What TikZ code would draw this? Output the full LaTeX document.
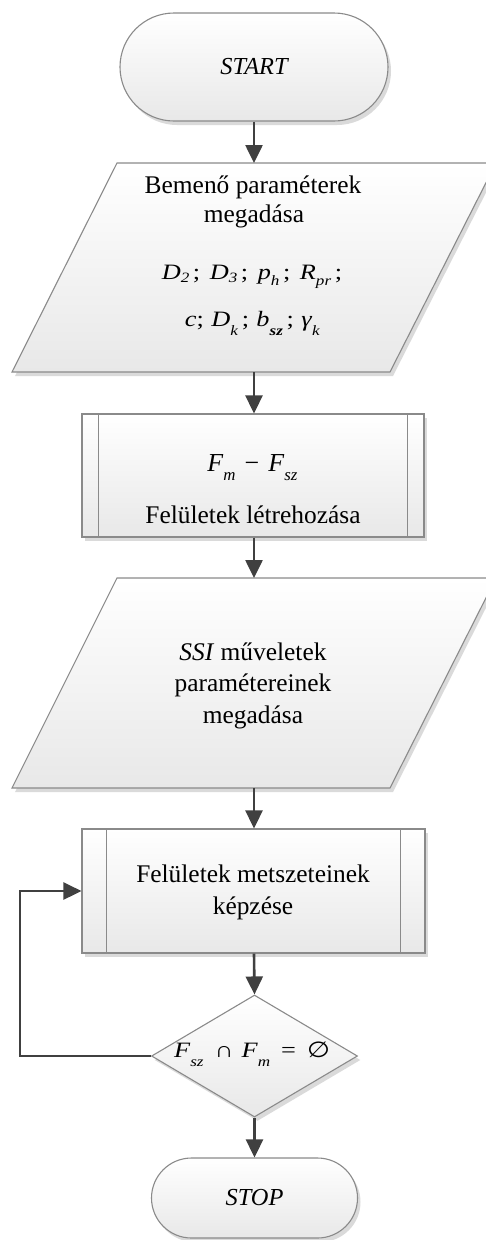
\documentclass[tikz,border=0pt]{standalone}
\usepackage{fontspec}
\setmainfont{Liberation Serif}
\newfontfamily\symsans{DejaVu Sans}
\usepackage{graphicx}
\usetikzlibrary{arrows.meta,shapes.geometric,shapes.misc,shadows}

% lowered, reduced subscript
\newcommand\lowsub[2][0.3em]{\raisebox{-#1}{\scalebox{0.65}{#2}}}
% italic variable with italic subscript
\newcommand\var[3][0.3em]{\textit{#2}\lowsub[#1]{\textit{#3}}}
% equation-object look: slightly widened formulas
\newcommand\wide[1]{\scalebox{1.2}[1]{#1}}

\definecolor{edge}{HTML}{8A8A8A}
\definecolor{flow}{HTML}{404040}
\definecolor{shadowgray}{HTML}{DADADA}

\tikzset{
  shapebox/.style={draw=edge, line width=1.1bp, top color=white, bottom color=black!9,
    drop shadow={shadow xshift=3bp, shadow yshift=-4bp, fill=shadowgray, opacity=1}},
  terminal/.style={shapebox, rounded rectangle, inner sep=0pt,
    font=\fontsize{24.5}{28}\selectfont\itshape},
  subproc/.style={shapebox, rectangle, inner sep=0pt},
  decision/.style={shapebox, diamond, inner sep=0pt},
  innerline/.style={draw=edge, line width=1.1bp},
  lbl/.style={inner sep=0pt, anchor=base, font=\fontsize{25.5}{30}\selectfont},
  mathlbl/.style={lbl, font=\fontsize{22}{26}\selectfont},
  flowline/.style={draw=flow, line width=2.6bp, -{Triangle[length=18bp,width=17bp]}},
}

\begin{document}
\begin{tikzpicture}[x=1bp,y=-1bp]
\useasboundingbox (0,0) rectangle (486,1240);
\clip (0,0) rectangle (486,1240);

% start
\node[terminal, minimum width=268bp, minimum height=108bp] (start) at (254,67) {START};

% input of parameters
\path[shapebox] (117,163) -- (496,163) -- (390,372) -- (12,372) -- cycle;
\coordinate (in1n) at (254,163);
\coordinate (in1s) at (254,372);
\node[lbl] (p1a) at (253,193) {Bemenő paraméterek};
\node[lbl] (p1b) at (254,222) {megadása};
\node[mathlbl] (p1c) at (252,279)
  {\wide{\var[0.15em]{D}{2}\hspace{0.14em};\hspace{0.36em}\var[0.15em]{D}{3}\hspace{0.14em};\hspace{0.36em}%
   \var[0.3em]{p}{h}\hspace{0.14em};\hspace{0.36em}\var[0.3em]{R}{pr}\hspace{0.14em};}};
\node[mathlbl] (p1d) at (252.5,326)
  {\wide{\textit{c};\hspace{0.28em}\var[0.45em]{D}{k}\hspace{0.14em};\hspace{0.28em}%
   \var[0.42em]{b}{\textbf{sz}}\hspace{0.14em};\hspace{0.28em}\var[0.45em]{γ}{k}}};

% surface creation
\node[subproc, minimum width=342bp, minimum height=123bp] (sub1) at (253,475.5) {};
\draw[innerline] ([xshift=17bp]sub1.north west) -- ([xshift=17bp]sub1.south west);
\draw[innerline] ([xshift=-17bp]sub1.north east) -- ([xshift=-17bp]sub1.south east);
\node[lbl, font=\fontsize{26}{30}\selectfont] (s1a) at (252.5,471)
  {\var[0.35em]{F}{m}\hspace{0.35em}−\hspace{0.35em}\var[0.35em]{F}{sz}};
\node[lbl] (s1b) at (253,523) {Felületek létrehozása};

% SSI parameters
\path[shapebox] (117,578) -- (496,578) -- (390,788) -- (12,788) -- cycle;
\coordinate (in2n) at (254,578);
\coordinate (in2s) at (254,788);
\node[lbl] (p2a) at (253,660) {\textit{SSI} műveletek};
\node[lbl] (p2b) at (253,691.5) {paramétereinek};
\node[lbl] (p2c) at (253,723) {megadása};

% intersections
\node[subproc, minimum width=343bp, minimum height=124bp] (sub2) at (253.5,891) {};
\draw[innerline] ([xshift=25bp]sub2.north west) -- ([xshift=25bp]sub2.south west);
\draw[innerline] ([xshift=-25bp]sub2.north east) -- ([xshift=-25bp]sub2.south east);
\node[lbl] (s2a) at (253,882.5) {Felületek metszeteinek};
\node[lbl] (s2b) at (253,914) {képzése};

% condition
\node[decision, minimum width=206bp, minimum height=122bp] (dec) at (254.5,1056) {};
\node[mathlbl] (dtext) at (252,1057)
  {\wide{\var[0.42em]{F}{sz}\hspace{0.42em}∩\hspace{0.3em}\var[0.42em]{F}{m}\hspace{0.42em}=\hspace{0.42em}{\symsans ∅}}};

% stop
\node[terminal, minimum width=206bp, minimum height=80bp] (stop) at (254.5,1198) {STOP};

% connectors
\coordinate (loopc) at (20,1056);
\draw[flowline] (start.south) -- (in1n);
\draw[flowline] (in1s) -- (in1s |- sub1.north);
\draw[flowline] (in1s |- sub1.south) -- (in2n);
\draw[flowline] (in2s) -- (in2s |- sub2.north);
\draw[flowline] (in2s |- sub2.south) -- (dec.north);
\draw[flowline] (dec.south) -- (stop.north);
\draw[flowline] (dec.west) -- (loopc) |- (sub2.west);
\end{tikzpicture}
\end{document}
